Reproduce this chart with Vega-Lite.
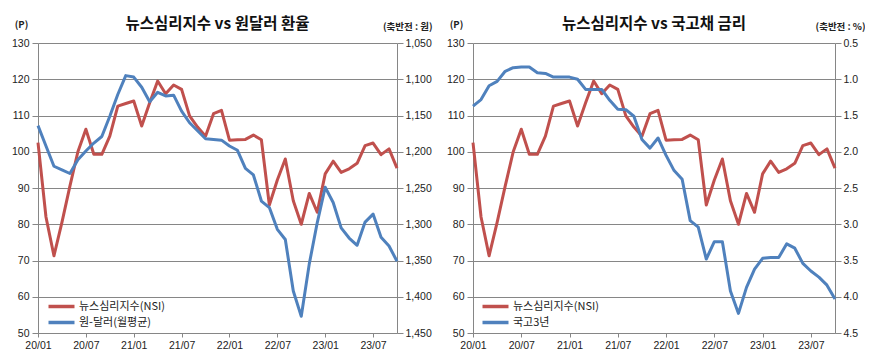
{
  "$schema": "https://vega.github.io/schema/vega-lite/v6.json",
  "background": "white",
  "padding": {"top": 16, "left": 0, "right": 0, "bottom": 0},
  "spacing": 8,
  "config": {
    "view": {"stroke": null},
    "font": "Noto Sans CJK KR",
    "axis": {"labelFont": "Liberation Sans", "labelFontSize": 10.5, "labelColor": "#222", "domainColor": "#868686", "tickColor": "#868686", "gridColor": "#868686", "titleFont": "Noto Sans CJK KR", "titleFontSize": 9.5, "titleFontWeight": "bold", "titleColor": "#222"},
    "legend": {"labelFont": "Noto Sans CJK KR", "labelFontSize": 11, "labelColor": "#222"}
  },
  "data": {"values": [
    {"month": "20/01", "nsi": 102.5, "fx": 1164, "ktb": 1.37},
    {"month": "20/02", "nsi": 82, "fx": 1192, "ktb": 1.28},
    {"month": "20/03", "nsi": 71.3, "fx": 1220, "ktb": 1.09},
    {"month": "20/04", "nsi": 80.5, "fx": 1225, "ktb": 1.03},
    {"month": "20/05", "nsi": 90.5, "fx": 1230, "ktb": 0.89},
    {"month": "20/06", "nsi": 100, "fx": 1211, "ktb": 0.84},
    {"month": "20/07", "nsi": 106.2, "fx": 1199, "ktb": 0.83},
    {"month": "20/08", "nsi": 99.3, "fx": 1188, "ktb": 0.83},
    {"month": "20/09", "nsi": 99.3, "fx": 1179, "ktb": 0.91},
    {"month": "20/10", "nsi": 104.3, "fx": 1151, "ktb": 0.92},
    {"month": "20/11", "nsi": 112.6, "fx": 1121, "ktb": 0.97},
    {"month": "20/12", "nsi": 113.3, "fx": 1095, "ktb": 0.97},
    {"month": "21/01", "nsi": 114, "fx": 1097, "ktb": 0.97},
    {"month": "21/02", "nsi": 107.1, "fx": 1111, "ktb": 1.0},
    {"month": "21/03", "nsi": 113.5, "fx": 1131, "ktb": 1.14},
    {"month": "21/04", "nsi": 119.5, "fx": 1118, "ktb": 1.14},
    {"month": "21/05", "nsi": 116, "fx": 1123, "ktb": 1.14},
    {"month": "21/06", "nsi": 118.4, "fx": 1122, "ktb": 1.29},
    {"month": "21/07", "nsi": 117.2, "fx": 1144, "ktb": 1.415},
    {"month": "21/08", "nsi": 109.9, "fx": 1160, "ktb": 1.42},
    {"month": "21/09", "nsi": 106.8, "fx": 1171, "ktb": 1.51},
    {"month": "21/10", "nsi": 104.3, "fx": 1182, "ktb": 1.83},
    {"month": "21/11", "nsi": 110.5, "fx": 1183, "ktb": 1.95},
    {"month": "21/12", "nsi": 111.4, "fx": 1184, "ktb": 1.81},
    {"month": "22/01", "nsi": 103.2, "fx": 1192, "ktb": 2.05},
    {"month": "22/02", "nsi": 103.3, "fx": 1198, "ktb": 2.26},
    {"month": "22/03", "nsi": 103.4, "fx": 1223, "ktb": 2.38},
    {"month": "22/04", "nsi": 104.6, "fx": 1232, "ktb": 2.95},
    {"month": "22/05", "nsi": 103.3, "fx": 1268, "ktb": 3.04},
    {"month": "22/06", "nsi": 85.3, "fx": 1277, "ktb": 3.48},
    {"month": "22/07", "nsi": 92.2, "fx": 1307, "ktb": 3.24},
    {"month": "22/08", "nsi": 98, "fx": 1321, "ktb": 3.24},
    {"month": "22/09", "nsi": 86.5, "fx": 1392, "ktb": 3.92},
    {"month": "22/10", "nsi": 80, "fx": 1427, "ktb": 4.23},
    {"month": "22/11", "nsi": 88.5, "fx": 1355, "ktb": 3.87},
    {"month": "22/12", "nsi": 83.3, "fx": 1298, "ktb": 3.62},
    {"month": "23/01", "nsi": 93.9, "fx": 1249, "ktb": 3.47},
    {"month": "23/02", "nsi": 97.4, "fx": 1270, "ktb": 3.46},
    {"month": "23/03", "nsi": 94.3, "fx": 1305, "ktb": 3.46},
    {"month": "23/04", "nsi": 95.3, "fx": 1319, "ktb": 3.27},
    {"month": "23/05", "nsi": 96.8, "fx": 1329, "ktb": 3.33},
    {"month": "23/06", "nsi": 101.7, "fx": 1297, "ktb": 3.54},
    {"month": "23/07", "nsi": 102.4, "fx": 1286, "ktb": 3.645},
    {"month": "23/08", "nsi": 99.2, "fx": 1318, "ktb": 3.73},
    {"month": "23/09", "nsi": 100.8, "fx": 1330, "ktb": 3.84},
    {"month": "23/10", "nsi": 95.5, "fx": 1351, "ktb": 4.03}
  ]},
  "resolve": {"scale": {"color": "independent"}, "legend": {"color": "independent"}},
  "hconcat": [
    {
      "width": 359,
      "height": 290,
      "title": {"text": "뉴스심리지수 vs 원달러 환율", "fontSize": 15.5, "fontWeight": "bold", "font": "Noto Sans CJK KR", "anchor": "middle", "offset": -13, "color": "#111"},
      "encoding": {
        "x": {"field": "month", "type": "ordinal", "sort": null, "scale": {"type": "point", "padding": 0},
          "axis": {"values": ["20/01", "20/07", "21/01", "21/07", "22/01", "22/07", "23/01", "23/07"], "labelAngle": 0, "title": null, "tickSize": 4, "labelPadding": 3, "grid": false}}
      },
      "layer": [
        {
          "mark": {"type": "line", "strokeWidth": 3, "strokeJoin": "round"},
          "encoding": {
            "y": {"field": "nsi", "type": "quantitative", "scale": {"domain": [50, 130], "nice": false, "zero": false},
              "axis": {"values": [50, 60, 70, 80, 90, 100, 110, 120, 130], "grid": true, "tickSize": 6, "labelPadding": 3, "minExtent": 38, "title": "(P)", "titleAngle": 0, "titleAlign": "center", "titleBaseline": "middle", "titleX": -17, "titleY": -19}},
            "color": {"datum": "뉴스심리지수(NSI)", "scale": {"domain": ["뉴스심리지수(NSI)", "원-달러(월평균)"], "range": ["#C0504D", "#4F81BD"]},
              "legend": {"orient": "none", "legendX": 15, "legendY": 255, "title": null, "symbolType": "M-2,0H2", "symbolStrokeWidth": 3.5, "symbolSize": 169, "labelOffset": 9, "rowPadding": 0, "padding": 0}}
          }
        },
        {
          "mark": {"type": "line", "strokeWidth": 3, "strokeJoin": "round"},
          "encoding": {
            "y": {"field": "fx", "type": "quantitative", "scale": {"domain": [1050, 1450], "reverse": true, "nice": false, "zero": false},
              "axis": {"orient": "right", "values": [1050, 1100, 1150, 1200, 1250, 1300, 1350, 1400, 1450], "format": ",.0f", "grid": false, "tickSize": 6, "labelPadding": 2, "minExtent": 36, "title": "(축반전 : 원)", "titleAngle": 0, "titleAlign": "right", "titleBaseline": "middle", "titleX": 35, "titleY": -17}},
            "color": {"datum": "원-달러(월평균)"}
          }
        }
      ],
      "resolve": {"scale": {"y": "independent"}}
    },
    {
      "width": 362,
      "height": 290,
      "title": {"text": "뉴스심리지수 vs 국고채 금리", "fontSize": 15.5, "fontWeight": "bold", "font": "Noto Sans CJK KR", "anchor": "middle", "offset": -13, "color": "#111"},
      "encoding": {
        "x": {"field": "month", "type": "ordinal", "sort": null, "scale": {"type": "point", "padding": 0},
          "axis": {"values": ["20/01", "20/07", "21/01", "21/07", "22/01", "22/07", "23/01", "23/07"], "labelAngle": 0, "title": null, "tickSize": 4, "labelPadding": 3, "grid": false}}
      },
      "layer": [
        {
          "mark": {"type": "line", "strokeWidth": 3, "strokeJoin": "round"},
          "encoding": {
            "y": {"field": "nsi", "type": "quantitative", "scale": {"domain": [50, 130], "nice": false, "zero": false},
              "axis": {"values": [50, 60, 70, 80, 90, 100, 110, 120, 130], "grid": true, "tickSize": 6, "labelPadding": 3, "minExtent": 32, "title": "(P)", "titleAngle": 0, "titleAlign": "center", "titleBaseline": "middle", "titleX": -17, "titleY": -19}},
            "color": {"datum": "뉴스심리지수(NSI)", "scale": {"domain": ["뉴스심리지수(NSI)", "국고3년"], "range": ["#C0504D", "#4F81BD"]},
              "legend": {"orient": "none", "legendX": 14, "legendY": 255, "title": null, "symbolType": "M-2,0H2", "symbolStrokeWidth": 3.5, "symbolSize": 169, "labelOffset": 9, "rowPadding": 0, "padding": 0}}
          }
        },
        {
          "mark": {"type": "line", "strokeWidth": 3, "strokeJoin": "round"},
          "encoding": {
            "y": {"field": "ktb", "type": "quantitative", "scale": {"domain": [0.5, 4.5], "reverse": true, "nice": false, "zero": false},
              "axis": {"orient": "right", "values": [0.5, 1, 1.5, 2, 2.5, 3, 3.5, 4, 4.5], "format": ".1f", "grid": false, "tickSize": 6, "labelPadding": 2, "minExtent": 30, "title": "(축반전 : %)", "titleAngle": 0, "titleAlign": "right", "titleBaseline": "middle", "titleX": 30, "titleY": -17}},
            "color": {"datum": "국고3년"}
          }
        }
      ],
      "resolve": {"scale": {"y": "independent"}}
    }
  ]
}
